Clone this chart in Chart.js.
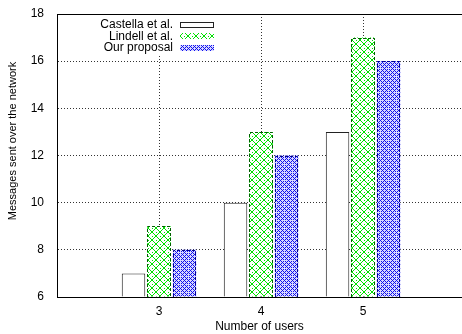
<!DOCTYPE html>
<html>
<head>
<meta charset="utf-8">
<script src="https://cdn.jsdelivr.net/npm/chart.js@4.4.0/dist/chart.umd.min.js"></script>
<style>
    html, body { margin: 0; padding: 0; background: #fff; overflow: hidden; }
    canvas { display: block; }
</style>
</head>
<body>
<canvas id="barChart" width="462" height="334"></canvas>
<script>
const users = [3, 4, 5];
const castella = [7, 10, 13];
const lindell = [9, 13, 17];
const proposal = [8, 12, 16];
const yTicks = [6, 8, 10, 12, 14, 16, 18];
const yTitle = 'Messages sent over the network';
const xTitle = 'Number of users';

Chart.defaults.font.family = '"Liberation Sans", Arial, sans-serif';
Chart.defaults.font.size = 12;
Chart.defaults.color = '#000';

// small pixel tiles to mimic gnuplot fill patterns
function makePattern(size, bg, fg, test) {
    const c = document.createElement('canvas');
    c.width = size;
    c.height = size;
    const g = c.getContext('2d');
    g.fillStyle = bg;
    g.fillRect(0, 0, size, size);
    g.fillStyle = fg;
    for (let y = 0; y < size; y++) {
        for (let x = 0; x < size; x++) {
            if (test(x, y)) g.fillRect(x, y, 1, 1);
        }
    }
    return g.createPattern(c, 'repeat');
}

const ctx = document.getElementById('barChart').getContext('2d');

const greenFill = makePattern(8, '#ffffff', '#00e000', (x, y) =>
    x === y || x === 7 - y || (x === 0 && y === 4) || (x === 4 && y === 0));
const blueFill = makePattern(8, '#d8d8ff', '#1010ee', (x, y) =>
    (x + y) % 4 === 0 || ((x - y) % 4 + 4) % 4 === 0 ? !(x === 4 && y === 4) : false);

function toPoints(values) {
    return users.map((u, i) => ({ x: u, y: values[i] }));
}

const dashedBorders = {
    id: 'dashedBorders',
    afterDatasetsDraw(chart) {
        const c = chart.ctx;
        chart.data.datasets.forEach((ds, i) => {
            if (!ds.dashColor) return;
            chart.getDatasetMeta(i).data.forEach(bar => {
                const p = bar.getProps(['x', 'y', 'base', 'width'], true);
                const l = Math.round(p.x - p.width / 2) + 0.5;
                const r = Math.round(p.x + p.width / 2) - 0.5;
                const t = Math.round(p.y) + 0.5;
                const b = Math.round(p.base);
                c.save();
                c.strokeStyle = ds.dashColor;
                c.lineWidth = 1;
                c.setLineDash([3, 2]);
                c.beginPath();
                c.moveTo(l, b);
                c.lineTo(l, t);
                c.lineTo(r, t);
                c.lineTo(r, b);
                c.stroke();
                c.restore();
            });
        });
    }
};

const frameAndLegend = {
    id: 'frameAndLegend',
    afterDraw(chart) {
        const c = chart.ctx;
        const area = chart.chartArea;
        c.save();
        // key box (blank background like gnuplot)
        c.fillStyle = '#fff';
        c.fillRect(100, area.top + 2, 120, 38);

        // solid top border
        c.strokeStyle = '#000';
        c.lineWidth = 1;
        c.beginPath();
        c.moveTo(area.left, Math.round(area.top) + 0.5);
        c.lineTo(area.right, Math.round(area.top) + 0.5);
        c.stroke();

        c.font = '12px "Liberation Sans", Arial, sans-serif';
        c.textAlign = 'right';
        c.textBaseline = 'middle';
        chart.data.datasets.forEach((ds, i) => {
            const y = 24.5 + i * 11.8;
            c.fillStyle = '#000';
            c.fillText(ds.label, 173, y);
            c.fillStyle = ds.backgroundColor;
            c.fillRect(180, Math.round(y) - 3, 34, 6);
            if (!ds.dashColor) {
                c.strokeStyle = ds.borderColor;
                c.strokeRect(180.5, Math.round(y) - 2.5, 33, 5);
            }
        });

        // y axis title, gnuplot puts it a bit above the plot middle
        c.font = '11px "Liberation Sans", Arial, sans-serif';
        c.fillStyle = '#000';
        c.translate(13, 141);
        c.rotate(-Math.PI / 2);
        c.textAlign = 'center';
        c.fillText(yTitle, 0, 0);
        c.restore();
    }
};

new Chart(ctx, {
    type: 'bar',
    data: {
        datasets: [
            {
                label: 'Castella et al.',
                data: toPoints(castella),
                backgroundColor: '#ffffff',
                borderColor: '#222',
                borderWidth: 1,
                base: 6
            },
            {
                label: 'Lindell et al.',
                data: toPoints(lindell),
                backgroundColor: greenFill,
                borderWidth: 0,
                dashColor: '#006000',
                base: 6
            },
            {
                label: 'Our proposal',
                data: toPoints(proposal),
                backgroundColor: blueFill,
                borderWidth: 0,
                dashColor: '#000090',
                base: 6
            }
        ]
    },
    options: {
        responsive: false,
        animation: false,
        layout: { padding: { top: 14, right: 0, left: 0, bottom: 0 } },
        categoryPercentage: 0.75,
        barPercentage: 0.92,
        plugins: {
            legend: { display: false },
            tooltip: { enabled: false }
        },
        scales: {
            x: {
                type: 'linear',
                offset: false,
                min: 2,
                max: 5.97,
                afterBuildTicks: scale => {
                    scale.ticks = users.map(v => ({ value: v }));
                },
                afterFit: scale => {
                    scale.height = 37;
                    scale.paddingLeft = 0;
                    scale.paddingRight = 0;
                },
                grid: {
                    offset: false,
                    color: '#333',
                    lineWidth: 1,
                    drawTicks: false
                },
                border: { color: '#000', width: 1, dash: [1, 2] },
                ticks: {
                    padding: 7,
                    color: '#000',
                    font: { size: 12 }
                },
                title: {
                    display: true,
                    text: xTitle,
                    padding: { top: 3, bottom: 0 },
                    font: { size: 12 }
                }
            },
            y: {
                min: 6,
                max: 18,
                afterBuildTicks: scale => {
                    scale.ticks = yTicks.map(v => ({ value: v }));
                },
                afterFit: scale => {
                    scale.width = 57;
                    scale.paddingTop = 0;
                    scale.paddingBottom = 0;
                },
                grid: {
                    color: '#333',
                    lineWidth: 1,
                    drawTicks: false
                },
                border: { color: '#000', width: 1, dash: [1, 2] },
                ticks: {
                    padding: 13,
                    color: '#000',
                    font: { size: 12 }
                },
                title: { display: false }
            }
        }
    },
    plugins: [dashedBorders, frameAndLegend]
});
</script>
</body>
</html>
